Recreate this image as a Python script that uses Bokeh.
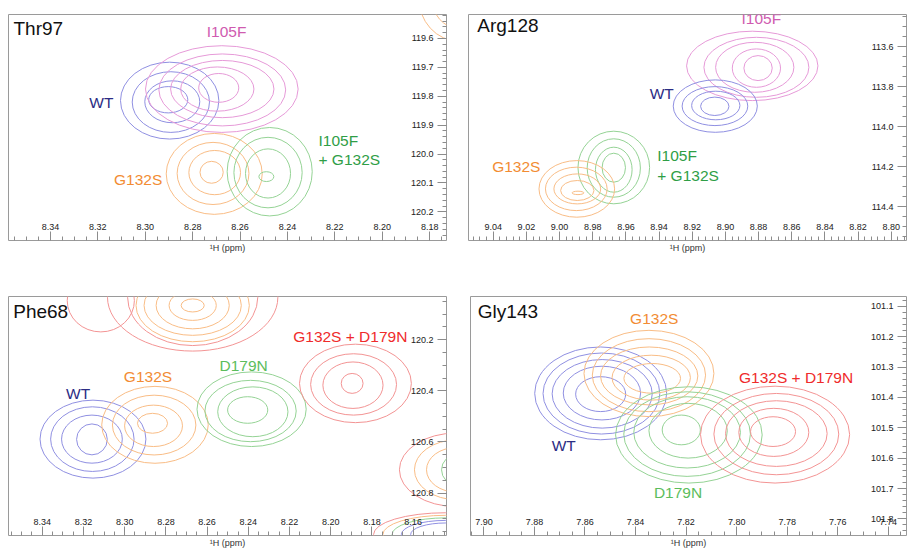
import math
from bokeh.plotting import figure
from bokeh.models import Range1d, FixedTicker, Label, ColumnDataSource
from bokeh.layouts import row, column
from bokeh.embed import file_html
from bokeh.resources import INLINE
from bokeh.core.properties import value

FONT = "Liberation Sans"

# ---------------- data: Thr97 ----------------
thr97_x_ticks = [8.34, 8.32, 8.30, 8.28, 8.26, 8.24, 8.22, 8.20, 8.18]
thr97_y_ticks = [119.6, 119.7, 119.8, 119.9, 120.0, 120.1, 120.2]
# rings: (1H centre, 15N centre, 1H width, 15N width)
thr97_wt = [(8.2897, 119.815, 0.0415, 0.266), (8.2892, 119.820, 0.0326, 0.210),
            (8.2886, 119.819, 0.0232, 0.145), (8.2903, 119.812, 0.0165, 0.091)]
thr97_i105f = [(8.2677, 119.775, 0.0644, 0.300), (8.2675, 119.778, 0.0535, 0.249),
               (8.2675, 119.775, 0.0436, 0.198), (8.2696, 119.775, 0.0309, 0.153),
               (8.2690, 119.771, 0.0169, 0.0997)]
thr97_g132s = [(8.2709, 120.0685, 0.0405, 0.280), (8.2714, 120.067, 0.0303, 0.215),
               (8.2707, 120.064, 0.0218, 0.153), (8.2720, 120.063, 0.0098, 0.076)]
thr97_i105f_g132s = [(8.2475, 120.061, 0.0359, 0.306), (8.2482, 120.064, 0.0288, 0.244),
                     (8.2482, 120.067, 0.0190, 0.170), (8.2489, 120.078, 0.0063, 0.034)]
thr97_neighbour_g132s = [(8.1678, 119.456, 0.0338, 0.306), (8.1678, 119.456, 0.0228, 0.218)]

# ---------------- data: Arg128 ----------------
arg128_x_ticks = [9.04, 9.02, 9.00, 8.98, 8.96, 8.94, 8.92, 8.90, 8.88, 8.86, 8.84, 8.82, 8.80]
arg128_y_ticks = [113.6, 113.8, 114.0, 114.2, 114.4]
arg128_i105f = [(8.8838, 113.697, 0.0792, 0.347), (8.8813, 113.704, 0.0633, 0.300),
                (8.8823, 113.704, 0.0472, 0.250), (8.8813, 113.708, 0.0291, 0.192),
                (8.8803, 113.708, 0.0171, 0.125)]
arg128_wt = [(8.9061, 113.898, 0.0507, 0.262), (8.9063, 113.898, 0.0396, 0.195),
             (8.9058, 113.895, 0.0291, 0.143), (8.9064, 113.899, 0.0171, 0.092)]
arg128_i105f_g132s = [(8.9673, 114.205, 0.0432, 0.363), (8.9673, 114.2075, 0.0321, 0.292),
                      (8.9673, 114.216, 0.0221, 0.225), (8.9673, 114.206, 0.0141, 0.145)]
arg128_g132s = [(8.9896, 114.312, 0.0456, 0.283), (8.9899, 114.312, 0.0372, 0.217),
                (8.9893, 114.312, 0.0282, 0.150), (8.9893, 114.320, 0.0201, 0.100),
                (8.9889, 114.332, 0.0071, 0.017)]

# ---------------- data: Phe68 ----------------
phe68_x_ticks = [8.34, 8.32, 8.30, 8.28, 8.26, 8.24, 8.22, 8.20, 8.18, 8.16]
phe68_y_ticks = [120.2, 120.4, 120.6, 120.8]
phe68_wt = [(8.3154, 120.589, 0.0514, 0.305), (8.3157, 120.589, 0.0405, 0.253),
            (8.3159, 120.589, 0.0295, 0.188), (8.3159, 120.590, 0.0149, 0.121)]
phe68_g132s = [(8.2853, 120.533, 0.0517, 0.301), (8.2857, 120.534, 0.0405, 0.234),
               (8.2860, 120.537, 0.0281, 0.162), (8.2865, 120.527, 0.0146, 0.078)]
phe68_d179n = [(8.2384, 120.472, 0.0530, 0.292), (8.2389, 120.479, 0.0443, 0.240),
               (8.2378, 120.482, 0.0341, 0.195), (8.2403, 120.475, 0.0195, 0.104)]
phe68_g132s_d179n = [(8.1880, 120.371, 0.0543, 0.307), (8.1889, 120.375, 0.0417, 0.240),
                     (8.1892, 120.378, 0.0292, 0.182), (8.1896, 120.371, 0.0106, 0.078)]
phe68_top_g132s = [(8.2670, 120.066, 0.0550, 0.284), (8.2670, 120.066, 0.0472, 0.234),
                   (8.2670, 120.066, 0.0355, 0.183), (8.2670, 120.066, 0.0229, 0.117),
                   (8.2670, 120.066, 0.0112, 0.051)]
phe68_top_g132s_d179n = [(8.2670, 120.034, 0.0827, 0.421), (8.2670, 120.034, 0.0632, 0.378),
                         (8.3116, 120.047, 0.0326, 0.245)]
phe68_edge_g132s_d179n = [(8.1389, 120.709, 0.0555, 0.288), (8.1442, 120.962, 0.0700, 0.170)]
phe68_edge_g132s = [(8.1389, 120.709, 0.0409, 0.234), (8.1389, 120.709, 0.0292, 0.175),
                    (8.1442, 120.962, 0.0610, 0.150)]
phe68_edge_d179n = [(8.1389, 120.709, 0.0146, 0.117), (8.1442, 120.962, 0.0520, 0.130)]
phe68_edge_wt = [(8.1442, 120.962, 0.0430, 0.110), (8.1442, 120.962, 0.0340, 0.090)]

# ---------------- data: Gly143 ----------------
gly143_x_ticks = [7.90, 7.88, 7.86, 7.84, 7.82, 7.80, 7.78, 7.76, 7.74]
gly143_y_ticks = [101.1, 101.2, 101.3, 101.4, 101.5, 101.6, 101.7, 101.8]
gly143_wt = [(7.8538, 101.3865, 0.0522, 0.306), (7.8535, 101.387, 0.0462, 0.267),
             (7.8532, 101.388, 0.0396, 0.226), (7.8533, 101.3855, 0.0306, 0.177),
             (7.8538, 101.389, 0.0198, 0.115)]
gly143_g132s = [(7.8347, 101.3209, 0.0514, 0.2845), (7.8347, 101.3265, 0.0448, 0.2406),
                (7.8346, 101.329, 0.0385, 0.191), (7.8338, 101.3347, 0.0310, 0.148),
                (7.8334, 101.337, 0.0224, 0.098)]
gly143_d179n = [(7.8189, 101.5234, 0.0580, 0.3174), (7.8196, 101.5207, 0.0501, 0.279),
                (7.8196, 101.515, 0.0422, 0.235), (7.8192, 101.5096, 0.0310, 0.1805),
                (7.8219, 101.507, 0.0151, 0.098)]
gly143_g132s_d179n = [(7.7848, 101.5224, 0.0590, 0.3193), (7.7843, 101.5207, 0.0494, 0.268),
                      (7.7843, 101.519, 0.0402, 0.2166), (7.7853, 101.515, 0.0277, 0.1585),
                      (7.7856, 101.5125, 0.0178, 0.098)]

# ---------------- styles ----------------
LINE = {"WT": "#9090e2", "I105F": "#e69ad8", "G132S": "#f9bd86",
        "I105F+G132S": "#95d395", "D179N": "#95d395", "G132S+D179N": "#f39494"}
TEXT = {"WT": "#2c2c84", "I105F": "#cf5bb0", "G132S": "#f28c33",
        "I105F+G132S": "#2f9e46", "D179N": "#5cbd5c", "G132S+D179N": "#ef2b2b",
        "title": "#111111"}
AXIS_GRAY = "#8c8c8c"


def minor_ticks(lo, hi, step):
    lo, hi = min(lo, hi), max(lo, hi)
    n0 = math.floor(lo / step)
    n1 = math.ceil(hi / step)
    return [round(k * step, 5) for k in range(n0, n1 + 1)]


def make_panel(title, xr, yr, xt, xminor, yt, yminor, series, labels,
               width, height, borders):
    left, right, top, bottom = borders
    p = figure(width=width, height=height, x_range=Range1d(*xr), y_range=Range1d(*yr),
               output_backend="svg", toolbar_location=None, tools="",
               y_axis_location="right", min_border_left=left, min_border_right=right,
               min_border_top=top, min_border_bottom=bottom)
    p.grid.visible = False
    p.outline_line_color = "#9a9a9a"
    p.outline_line_width = 1
    p.background_fill_color = "white"
    p.border_fill_color = "white"
    for ax, ticks, mstep, rng in ((p.xaxis[0], xt, xminor, xr), (p.yaxis[0], yt, yminor, yr)):
        ax.ticker = FixedTicker(ticks=ticks, minor_ticks=minor_ticks(rng[0], rng[1], mstep))
        ax.major_tick_in = 9
        ax.major_tick_out = 0
        ax.minor_tick_in = 4
        ax.minor_tick_out = 0
        ax.major_tick_line_color = AXIS_GRAY
        ax.minor_tick_line_color = AXIS_GRAY
        ax.axis_line_color = None
        ax.major_label_text_color = None
        ax.major_label_text_font_size = "1px"
        ax.major_label_standoff = 0
    p.xaxis.axis_label = "¹H (ppm)"
    p.xaxis.axis_label_text_font = FONT
    p.xaxis.axis_label_text_font_size = "9px"
    p.xaxis.axis_label_text_font_style = "normal"
    p.xaxis.axis_label_text_color = "#333333"
    p.xaxis.axis_label_standoff = 2

    # contour rings
    for rings, key in series:
        src = ColumnDataSource(dict(x=[r[0] for r in rings], y=[r[1] for r in rings],
                                    w=[r[2] for r in rings], h=[r[3] for r in rings]))
        p.ellipse(x="x", y="y", width="w", height="h", source=src, fill_color=None,
                  line_color=LINE[key], line_width=1)

    # tick labels drawn inside the frame
    p.text(x=xt, y=[yr[0]] * len(xt), text=["{:.2f}".format(v) for v in xt],
           y_offset=-14, text_align="center", text_baseline="middle",
           text_font=value(FONT), text_font_size="9px", text_color="#222222")
    p.text(x=[xr[1]] * len(yt), y=yt, text=["{:.1f}".format(v) for v in yt],
           x_offset=-13, text_align="right", text_baseline="middle",
           text_font=value(FONT), text_font_size="9px", text_color="#222222")

    # panel title
    p.add_layout(Label(x=title[1], y=title[2], text=title[0], text_align="left",
                       text_baseline="middle", text_font=FONT, text_font_size="19px",
                       text_color=TEXT["title"]))
    # series labels
    for txt, x, y, key, align in labels:
        p.add_layout(Label(x=x, y=y, text=txt, text_align=align, text_baseline="middle",
                           text_font=FONT, text_font_size="15.5px", text_color=TEXT[key]))

    # vertical 15N axis title on the right
    p.add_layout(Label(x=xr[1], y=(yr[0] + yr[1]) / 2, x_offset=9,
                       text="¹⁵N (ppm)", angle=math.pi / 2, text_align="center",
                       text_baseline="middle", text_font=FONT, text_font_size="9px",
                       text_color="#333333"))
    return p


p1 = make_panel(("Thr97", 8.3556, 119.566), (8.3577, 8.1729), (120.299, 119.517),
                thr97_x_ticks, 0.005, thr97_y_ticks, 0.02,
                [(thr97_neighbour_g132s, "G132S"), (thr97_wt, "WT"), (thr97_i105f, "I105F"),
                 (thr97_g132s, "G132S"), (thr97_i105f_g132s, "I105F+G132S")],
                [("I105F", 8.2657, 119.575, "I105F", "center"),
                 ("WT", 8.3185, 119.820, "WT", "center"),
                 ("G132S", 8.3030, 120.087, "G132S", "center"),
                 ("I105F", 8.2269, 119.952, "I105F+G132S", "left"),
                 ("+ G132S", 8.2269, 120.017, "I105F+G132S", "left")],
                464, 288, (8, 18, 10, 48))

p2 = make_panel(("Arg128", 9.0496, 113.495), (9.0549, 8.7908), (114.57, 113.44),
                arg128_x_ticks, 0.004, arg128_y_ticks, 0.05,
                [(arg128_i105f, "I105F"), (arg128_wt, "WT"),
                 (arg128_i105f_g132s, "I105F+G132S"), (arg128_g132s, "G132S")],
                [("I105F", 8.8783, 113.4615, "I105F", "center"),
                 ("WT", 8.9384, 113.8365, "WT", "center"),
                 ("G132S", 9.0261, 114.199, "G132S", "center"),
                 ("I105F", 8.9411, 114.145, "I105F+G132S", "left"),
                 ("+ G132S", 8.9411, 114.245, "I105F+G132S", "left")],
                456, 288, (4, 14, 14, 48))

p3 = make_panel(("Phe68", 8.3541, 120.091), (8.3564, 8.1438), (120.966, 120.031),
                phe68_x_ticks, 0.005, phe68_y_ticks, 0.05,
                [(phe68_top_g132s_d179n, "G132S+D179N"), (phe68_top_g132s, "G132S"),
                 (phe68_edge_g132s_d179n, "G132S+D179N"), (phe68_edge_g132s, "G132S"),
                 (phe68_edge_d179n, "D179N"), (phe68_edge_wt, "WT"),
                 (phe68_wt, "WT"), (phe68_g132s, "G132S"), (phe68_d179n, "D179N"),
                 (phe68_g132s_d179n, "G132S+D179N")],
                [("G132S + D179N", 8.1905, 120.188, "G132S+D179N", "center"),
                 ("D179N", 8.2423, 120.299, "D179N", "center"),
                 ("G132S", 8.2887, 120.344, "G132S", "center"),
                 ("WT", 8.3226, 120.410, "WT", "center")],
                464, 262, (8, 18, 8, 14))

p4 = make_panel(("Gly143", 7.9024, 101.1174), (7.9053, 7.7328), (101.8549, 101.0672),
                gly143_x_ticks, 0.005, gly143_y_ticks, 0.02,
                [(gly143_wt, "WT"), (gly143_g132s, "G132S"), (gly143_d179n, "D179N"),
                 (gly143_g132s_d179n, "G132S+D179N")],
                [("G132S", 7.8326, 101.140, "G132S", "center"),
                 ("G132S + D179N", 7.7765, 101.333, "G132S+D179N", "center"),
                 ("WT", 7.8684, 101.5585, "WT", "center"),
                 ("D179N", 7.8232, 101.7147, "D179N", "center")],
                456, 262, (6, 14, 8, 14))

layout = column(row(p1, p2), row(p3, p4))
open("out.html", "w").write(file_html(layout, INLINE))
